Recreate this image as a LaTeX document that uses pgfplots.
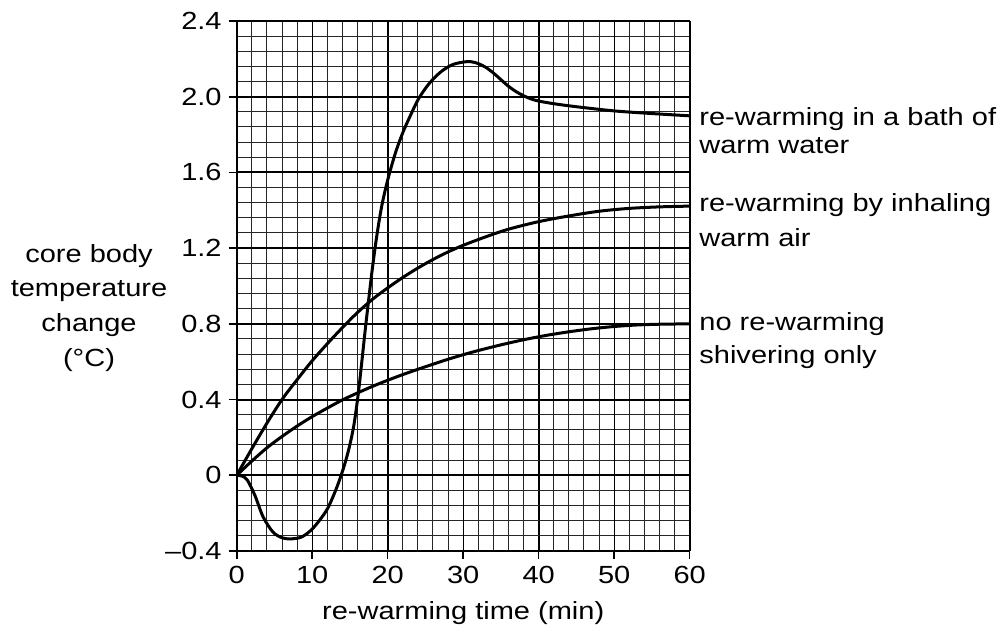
\documentclass[border=0pt]{standalone}
\usepackage{fontspec}
\setmainfont[FakeStretch=1.17]{Liberation Sans}
\usepackage{pgfplots}
\pgfplotsset{compat=1.18}
\newcommand{\lf}{\fontsize{12.4pt}{14pt}\selectfont}
\begin{document}
\begin{tikzpicture}
\useasboundingbox (-118.35pt,-39.5pt) rectangle (384.15pt,275.5pt);
\begin{axis}[
 at={(0pt,0pt)}, anchor=south west,
 scale only axis, width=226.5pt, height=265pt,
 xmin=0, xmax=60, ymin=-0.4, ymax=2.4,
 xtick={0,20,40,60}, xticklabels={0,20,40,60},
 extra x ticks={10,30,50}, extra x tick labels={10,30,50},
 extra x tick style={major grid style={black,line width=0.55pt}},
 ytick={-0.4,0,0.4,0.8,1.2,1.6,2.0,2.4},
 yticklabels={–0.4,0,0.4,0.8,1.2,1.6,2.0,2.4},
 minor x tick num=9, minor y tick num=4,
 grid=both,
 major grid style={black,line width=1pt},
 minor grid style={black!85,line width=0.5pt},
 tick align=outside, tick pos=left,
 major tick length=4pt, minor tick length=0pt,
 tick style={black,line width=0.8pt},
 axis line style={black,line width=0.8pt},
 tick label style={font=\lf},
 /pgf/number format/assume math mode=true,
 cycle list={{black}},
]
% re-warming in a bath of warm water
\addplot[black, line width=1.5pt, smooth, mark=none] coordinates {
(0,0) (0.7,-0.004) (1.4,-0.025) (2.4,-0.105) (3.5,-0.22) (4.8,-0.30) (6.0,-0.33) (7.1,-0.336)
(8.6,-0.326) (10.1,-0.28) (11.9,-0.185) (13.1,-0.08) (14.0,0.02) (14.8,0.13)
(15.5,0.26) (16.1,0.43) (16.6,0.61) (17.0,0.76) (17.4,0.90) (17.9,1.07) (18.5,1.25)
(19.2,1.42) (20.0,1.56) (21.0,1.70) (22.0,1.81) (23.0,1.90) (24.1,1.99) (25.5,2.07)
(27.0,2.13) (28.5,2.168) (30.0,2.183) (31.0,2.185) (32.0,2.175) (33.0,2.155)
(34.0,2.125) (35.0,2.09) (36.0,2.055) (37.0,2.027) (38.0,2.005) (39.0,1.988)
(40.0,1.977) (42.0,1.963) (45.0,1.947) (50.0,1.925) (55.0,1.911) (60.0,1.899)
};
% re-warming by inhaling warm air
\addplot[black, line width=1.5pt, smooth, mark=none] coordinates {
(0,0) (2,0.14) (4,0.275) (6,0.40) (8,0.505) (10,0.605) (12,0.695) (14,0.78)
(16,0.86) (18,0.93) (20,0.99) (22,1.045) (24,1.095) (26,1.14) (28,1.18)
(30,1.215) (33,1.26) (36,1.30) (40,1.34) (44,1.37) (48,1.395) (52,1.41)
(56,1.418) (60,1.422)
};
% no re-warming, shivering only
\addplot[black, line width=1.5pt, smooth, mark=none] coordinates {
(0,0) (2,0.075) (4,0.145) (6,0.205) (8,0.26) (10,0.31) (12,0.355) (14,0.398)
(16,0.435) (18,0.47) (20,0.502) (22,0.532) (24,0.56) (26,0.587) (28,0.613)
(30,0.637) (32,0.659) (35,0.689) (38,0.716) (41,0.739) (44,0.758) (47,0.774)
(50,0.786) (53,0.794) (56,0.798) (60,0.80)
};
\draw[line width=1.3pt] (rel axis cs:0,1) -- (rel axis cs:0,0) -- (rel axis cs:1,0);
\end{axis}
\begin{scope}[every node/.style={inner sep=0pt, font=\lf}]
\node[anchor=base west] at (231.15pt,212.65pt) {re-warming in a bath of};
\node[anchor=base west] at (231.15pt,198.5pt) {warm water};
\node[anchor=base west] at (231.15pt,169.65pt) {re-warming by inhaling};
\node[anchor=base west] at (231.15pt,152.15pt) {warm air};
\node[anchor=base west] at (231.15pt,110.15pt) {no re-warming};
\node[anchor=base west] at (231.15pt,93.5pt) {shivering only};
\node[anchor=base] at (-73.85pt,144.15pt) {core body};
\node[anchor=base] at (-73.85pt,127.15pt) {temperature};
\node[anchor=base] at (-73.85pt,109.65pt) {change};
\node[anchor=base] at (-73.85pt,92.15pt) {(°C)};
\node[anchor=base] at (113.25pt,-34.5pt) {re-warming time (min)};
\end{scope}
\end{tikzpicture}
\end{document}
